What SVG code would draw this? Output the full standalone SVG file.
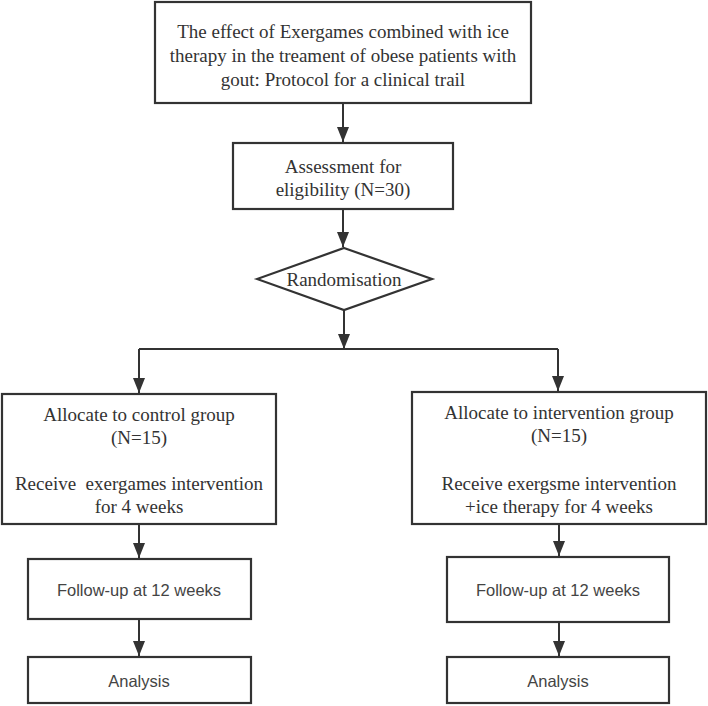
<svg xmlns="http://www.w3.org/2000/svg" width="708" height="706" viewBox="0 0 708 706">
<defs>
<marker id="ah" markerUnits="userSpaceOnUse" markerWidth="15" markerHeight="12" refX="15" refY="6" orient="auto" viewBox="0 0 15 12">
<path d="M0,0 L15,6 L0,12 Z" fill="#333"/>
</marker>
<style>
.box{fill:#fff;stroke:#333;stroke-width:2.2}
.ser{font-family:"Liberation Serif","Times New Roman",serif;font-size:19px;fill:#333;text-anchor:middle}
.san{font-family:"Liberation Sans",Arial,sans-serif;font-size:16.5px;fill:#444;text-anchor:middle}
.ln{fill:none;stroke:#333;stroke-width:2}
</style>
</defs>
<rect width="708" height="706" fill="#fff"/>
<g id="connectors">
<line class="ln" x1="343" y1="103" x2="343" y2="142" marker-end="url(#ah)"/>
<line class="ln" x1="343" y1="209" x2="343" y2="247" marker-end="url(#ah)"/>
<line class="ln" x1="344" y1="310" x2="344" y2="349" marker-end="url(#ah)"/>
<path class="ln" d="M139,349 H558"/>
<line class="ln" x1="139" y1="349" x2="139" y2="393" marker-end="url(#ah)"/>
<line class="ln" x1="558" y1="349" x2="558" y2="391" marker-end="url(#ah)"/>
<line class="ln" x1="139" y1="524" x2="139" y2="558" marker-end="url(#ah)"/>
<line class="ln" x1="139" y1="619" x2="139" y2="656" marker-end="url(#ah)"/>
<line class="ln" x1="559" y1="524" x2="559" y2="556" marker-end="url(#ah)"/>
<line class="ln" x1="559" y1="622" x2="559" y2="656" marker-end="url(#ah)"/>
</g>
<g id="title">
<rect class="box" x="155" y="2" width="376" height="101"/>
<text class="ser" x="343" y="38">The effect of Exergames combined with ice</text>
<text class="ser" x="343" y="62">therapy in the treament of obese patients with</text>
<text class="ser" x="343" y="86">gout: Protocol for a clinical trail</text>
</g>
<g id="assessment">
<rect class="box" x="233" y="143" width="220" height="66"/>
<text class="ser" x="343" y="173">Assessment for</text>
<text class="ser" x="343" y="196">eligibility (N=30)</text>
</g>
<g id="randomisation">
<polygon class="box" points="344,248 432,279 344,310 257,279"/>
<text class="ser" x="344" y="286">Randomisation</text>
</g>
<g id="control">
<rect class="box" x="2" y="394" width="274" height="130"/>
<text class="ser" x="139" y="421">Allocate to control group</text>
<text class="ser" x="139" y="444">(N=15)</text>
<text class="ser" x="139" y="490" xml:space="preserve">Receive  exergames intervention</text>
<text class="ser" x="139" y="513">for 4 weeks</text>
</g>
<g id="intervention">
<rect class="box" x="412" y="392" width="294" height="132"/>
<text class="ser" x="559" y="419">Allocate to intervention group</text>
<text class="ser" x="559" y="442">(N=15)</text>
<text class="ser" x="559" y="490">Receive exergsme intervention</text>
<text class="ser" x="559" y="513">+ice therapy for 4 weeks</text>
</g>
<g id="followup-left">
<rect class="box" x="28" y="559" width="223" height="60"/>
<text class="san" x="139" y="596">Follow-up at 12 weeks</text>
</g>
<g id="analysis-left">
<rect class="box" x="28" y="657" width="223" height="46"/>
<text class="san" x="139" y="687">Analysis</text>
</g>
<g id="followup-right">
<rect class="box" x="447" y="557" width="222" height="65"/>
<text class="san" x="558" y="596">Follow-up at 12 weeks</text>
</g>
<g id="analysis-right">
<rect class="box" x="447" y="657" width="222" height="46"/>
<text class="san" x="558" y="687">Analysis</text>
</g>
</svg>
